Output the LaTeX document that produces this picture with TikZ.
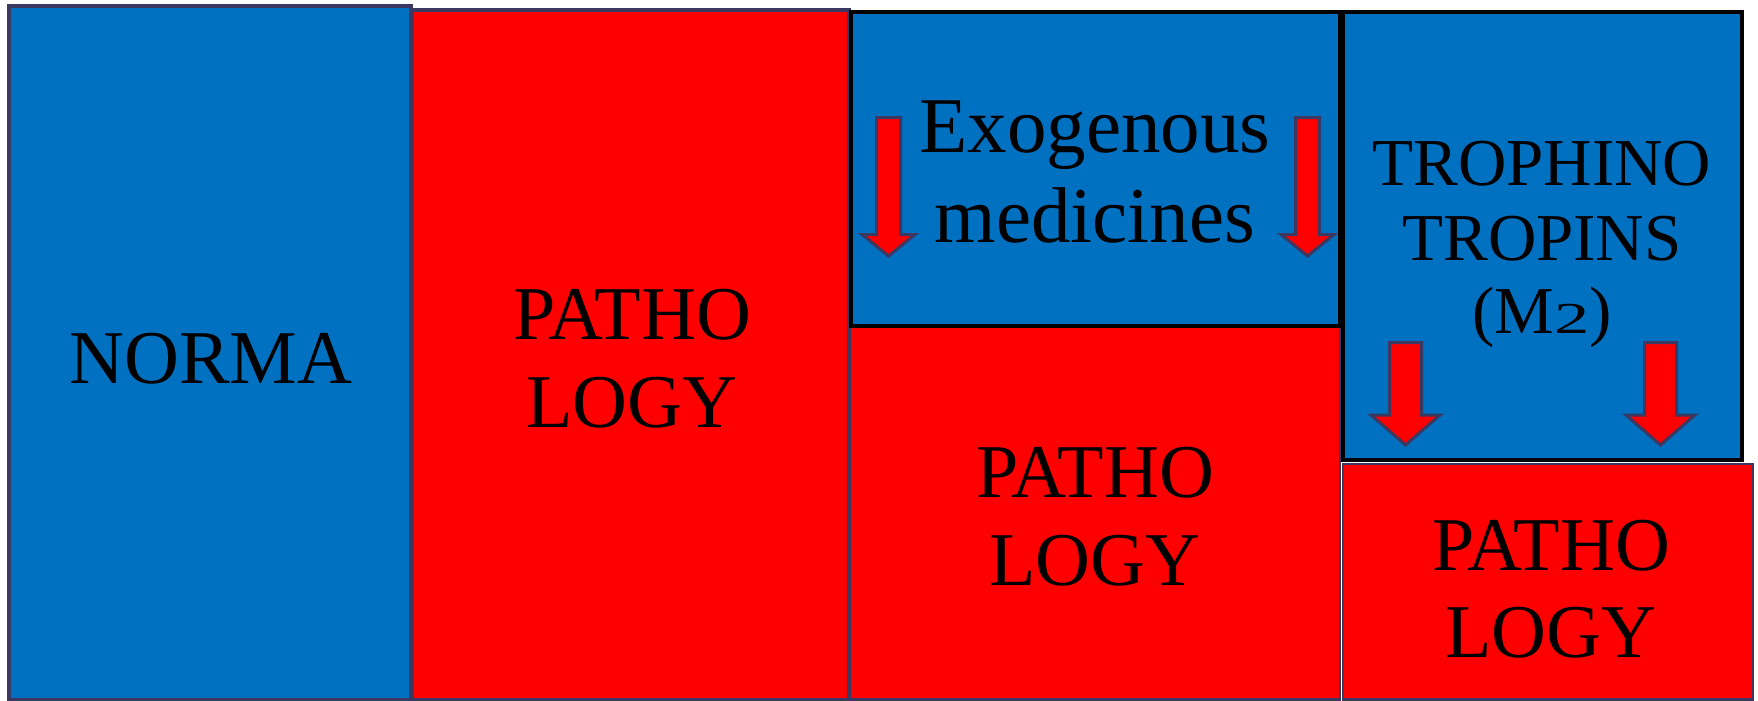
\documentclass[tikz,border=0pt]{standalone}
\usepackage{graphicx}
\usepackage{fontspec}
\setmainfont{Liberation Serif}
\definecolor{oblue}{HTML}{0070C0}
\definecolor{ored}{HTML}{FF0000}
\definecolor{onavy}{RGB}{59,56,98}
\tikzset{
  boxnavy/.style={draw=onavy,line width=3.5pt},
  boxthin/.style={draw=onavy,line width=2.5pt},
  boxblack/.style={draw=black,line width=4pt},
  bigtxt/.style={inner sep=0pt,anchor=base,font=\fontsize{76}{88}\selectfont},
  exotxt/.style={inner sep=0pt,anchor=base,font=\fontsize{79}{90}\selectfont},
  trotxt/.style={inner sep=0pt,anchor=base,font=\fontsize{67}{74}\selectfont},
  arr/.style={fill=ored,draw=onavy,line width=3pt,line join=miter}
}
\newcommand\dnarrow[6]{\draw[arr] (#1-#2,#4) -- (#1+#2,#4) -- (#1+#2,#5) -- (#1+#3,#5) -- (#1,#6) -- (#1-#3,#5) -- (#1-#2,#5) -- cycle;}
\newcommand\osdigit[1]{\scalebox{1.05}[0.66]{#1}}
\begin{document}
\begin{tikzpicture}[x=1pt,y=-1pt]
\useasboundingbox[fill=white] (0,0) rectangle (1758,701);
% boxes
\draw[boxnavy,fill=oblue] (9,6) rectangle (411,699.5);
\draw[boxnavy,fill=ored] (412,10) rectangle (849,699.5);
\draw[boxthin,fill=ored] (850,327) rectangle (1340,699.5);
\draw[boxblack,fill=oblue] (851,12) rectangle (1340,326);
\draw[boxthin,fill=ored] (1343,464) rectangle (1753,699.5);
\draw[boxblack,fill=oblue] (1343,12) rectangle (1742,460);
% texts
\node[bigtxt] (norma) at (211,383) {NORMA};
\node[bigtxt] (p1a) at (632,339) {PATHO};
\node[bigtxt] (p1b) at (632,427) {LOGY};
\node[bigtxt] (p2a) at (1095,497) {PATHO};
\node[bigtxt] (p2b) at (1095,585) {LOGY};
\node[bigtxt] (p3a) at (1551,570) {PATHO};
\node[bigtxt] (p3b) at (1551,657) {LOGY};
\node[exotxt] (exa) at (1095,152) {Exogenous};
\node[exotxt] (exb) at (1095,242) {medicines};
\node[trotxt] (tra) at (1542,185) {TROPHINO};
\node[trotxt] (trb) at (1542,260) {TROPINS};
\node[trotxt] (trc) at (1542,333) {(M\osdigit{2})};
% arrows
\dnarrow{888.5}{12}{26.5}{117.5}{234.5}{256}
\dnarrow{1307.5}{12}{26.5}{117.5}{234.5}{256}
\dnarrow{1405.5}{16}{34.5}{342.5}{415}{445}
\dnarrow{1660.5}{16}{34.5}{342.5}{415}{445}
\end{tikzpicture}
\end{document}
